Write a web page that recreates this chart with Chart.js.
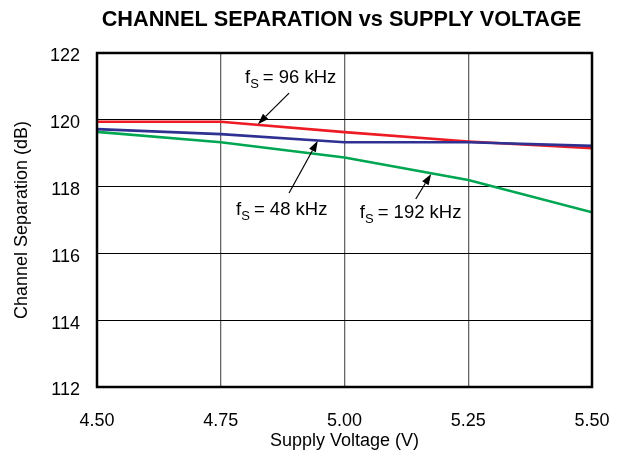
<!DOCTYPE html>
<html>
<head>
<meta charset="utf-8">
<script src="https://cdn.jsdelivr.net/npm/chart.js@4.4.0/dist/chart.umd.min.js"></script>
<style>
  html, body { margin: 0; padding: 0; background: #fff; }
  #wrap { width: 623px; height: 456px; }
</style>
</head>
<body>
<div id="wrap"><canvas id="grafico"></canvas></div>
<script>
const tensoes = [4.50, 4.75, 5.00, 5.25, 5.50];
const sep48 = [119.72, 119.57, 119.33, 119.33, 119.22];
const sep96 = [119.94, 119.94, 119.63, 119.35, 119.15];
const sep192 = [119.64, 119.33, 118.87, 118.20, 117.23];

// rótulos com seta: texto (x, y) e seta (de -> para), em unidades dos eixos
const rotulos = ['= 96 kHz', '= 48 kHz', '= 192 kHz'];
const textoX = [4.799, 4.781, 5.031];
const textoY = [121.10, 117.15, 117.05];
const setaDe = [[4.888, 120.80], [4.888, 117.81], [5.144, 117.63]];
const setaPara = [[4.825, 119.87], [4.946, 119.37], [5.175, 118.38]];

const fonte = '"Liberation Sans", Arial, Helvetica, sans-serif';

const pontos = serie => tensoes.map((v, i) => ({ x: v, y: serie[i] }));

const tituloPlugin = {
  id: 'tituloPlugin',
  afterDraw(chart) {
    const { ctx, chartArea } = chart;
    ctx.save();
    ctx.fillStyle = '#000';
    ctx.font = 'bold 21.7px ' + fonte;
    ctx.textAlign = 'center';
    ctx.textBaseline = 'middle';
    ctx.fillText('CHANNEL SEPARATION vs SUPPLY VOLTAGE', (chartArea.left + chartArea.right) / 2 - 3, 20);
    ctx.restore();
  }
};

const molduraPlugin = {
  id: 'molduraPlugin',
  afterDatasetsDraw(chart) {
    const { ctx, chartArea } = chart;
    ctx.save();
    ctx.strokeStyle = '#000';
    ctx.lineWidth = 2.5;
    ctx.strokeRect(chartArea.left, chartArea.top, chartArea.right - chartArea.left, chartArea.bottom - chartArea.top);
    ctx.restore();
  }
};

const setasPlugin = {
  id: 'setasPlugin',
  afterDatasetsDraw(chart) {
    const { ctx } = chart;
    const sx = chart.scales.x, sy = chart.scales.y;
    ctx.save();
    rotulos.forEach((txt, i) => {
      // seta
      const x1 = sx.getPixelForValue(setaDe[i][0]), y1 = sy.getPixelForValue(setaDe[i][1]);
      const x2 = sx.getPixelForValue(setaPara[i][0]), y2 = sy.getPixelForValue(setaPara[i][1]);
      const ang = Math.atan2(y2 - y1, x2 - x1);
      const comp = 11, larg = 3.8;
      const bx = x2 - comp * Math.cos(ang), by = y2 - comp * Math.sin(ang);
      ctx.strokeStyle = '#000';
      ctx.fillStyle = '#000';
      ctx.lineWidth = 1.2;
      ctx.beginPath();
      ctx.moveTo(x1, y1);
      ctx.lineTo(bx, by);
      ctx.stroke();
      ctx.beginPath();
      ctx.moveTo(x2, y2);
      ctx.lineTo(bx + larg * Math.sin(ang), by - larg * Math.cos(ang));
      ctx.lineTo(bx - larg * Math.sin(ang), by + larg * Math.cos(ang));
      ctx.closePath();
      ctx.fill();

      // texto f_S = ...
      let px = sx.getPixelForValue(textoX[i]);
      const py = sy.getPixelForValue(textoY[i]);
      ctx.textBaseline = 'alphabetic';
      ctx.textAlign = 'left';
      ctx.font = '18.5px ' + fonte;
      ctx.fillText('f', px, py);
      px += ctx.measureText('f').width;
      ctx.font = '13px ' + fonte;
      ctx.fillText('S', px, py + 5);
      px += ctx.measureText('S').width + 4;
      ctx.font = '18.5px ' + fonte;
      ctx.fillText(txt, px, py);
    });
    ctx.restore();
  }
};

new Chart(document.getElementById('grafico'), {
  type: 'line',
  data: {
    datasets: [
      { label: 'fS = 48 kHz', data: pontos(sep48), borderColor: '#2e3192', borderWidth: 2.6 },
      { label: 'fS = 96 kHz', data: pontos(sep96), borderColor: '#ed1c24', borderWidth: 2.6 },
      { label: 'fS = 192 kHz', data: pontos(sep192), borderColor: '#00a651', borderWidth: 2.6 }
    ]
  },
  options: {
    responsive: true,
    maintainAspectRatio: false,
    animation: false,
    elements: { point: { radius: 0 }, line: { tension: 0 } },
    layout: { padding: { top: 53, right: 31, left: 0, bottom: 0 } },
    plugins: {
      legend: { display: false },
      tooltip: { enabled: false }
    },
    scales: {
      x: {
        type: 'linear',
        min: 4.5,
        max: 5.5,
        afterFit: s => { s.height = 69; s.paddingLeft = 0; s.paddingRight = 0; },
        ticks: {
          stepSize: 0.25,
          padding: 23,
          color: '#000',
          font: { family: fonte, size: 18 },
          maxRotation: 0,
          callback: v => Number(v).toFixed(2)
        },
        grid: { color: '#666', lineWidth: 1.3, drawTicks: false },
        border: { display: false },
        title: {
          display: true,
          text: 'Supply Voltage (V)',
          color: '#000',
          font: { family: fonte, size: 18 },
          padding: { top: 4, bottom: 4 }
        }
      },
      y: {
        min: 112,
        max: 122,
        afterFit: s => { s.width = 97; s.paddingTop = 0; s.paddingBottom = 0; },
        ticks: {
          stepSize: 2,
          padding: 17,
          labelOffset: 3.5,
          color: '#000',
          font: { family: fonte, size: 18 }
        },
        grid: { color: '#000', lineWidth: 1, drawTicks: false },
        border: { display: false },
        title: {
          display: true,
          text: 'Channel Separation (dB)',
          color: '#000',
          font: { family: fonte, size: 18 },
          padding: { top: 11, bottom: 11 }
        }
      }
    }
  },
  plugins: [molduraPlugin, setasPlugin, tituloPlugin]
});
</script>
</body>
</html>
